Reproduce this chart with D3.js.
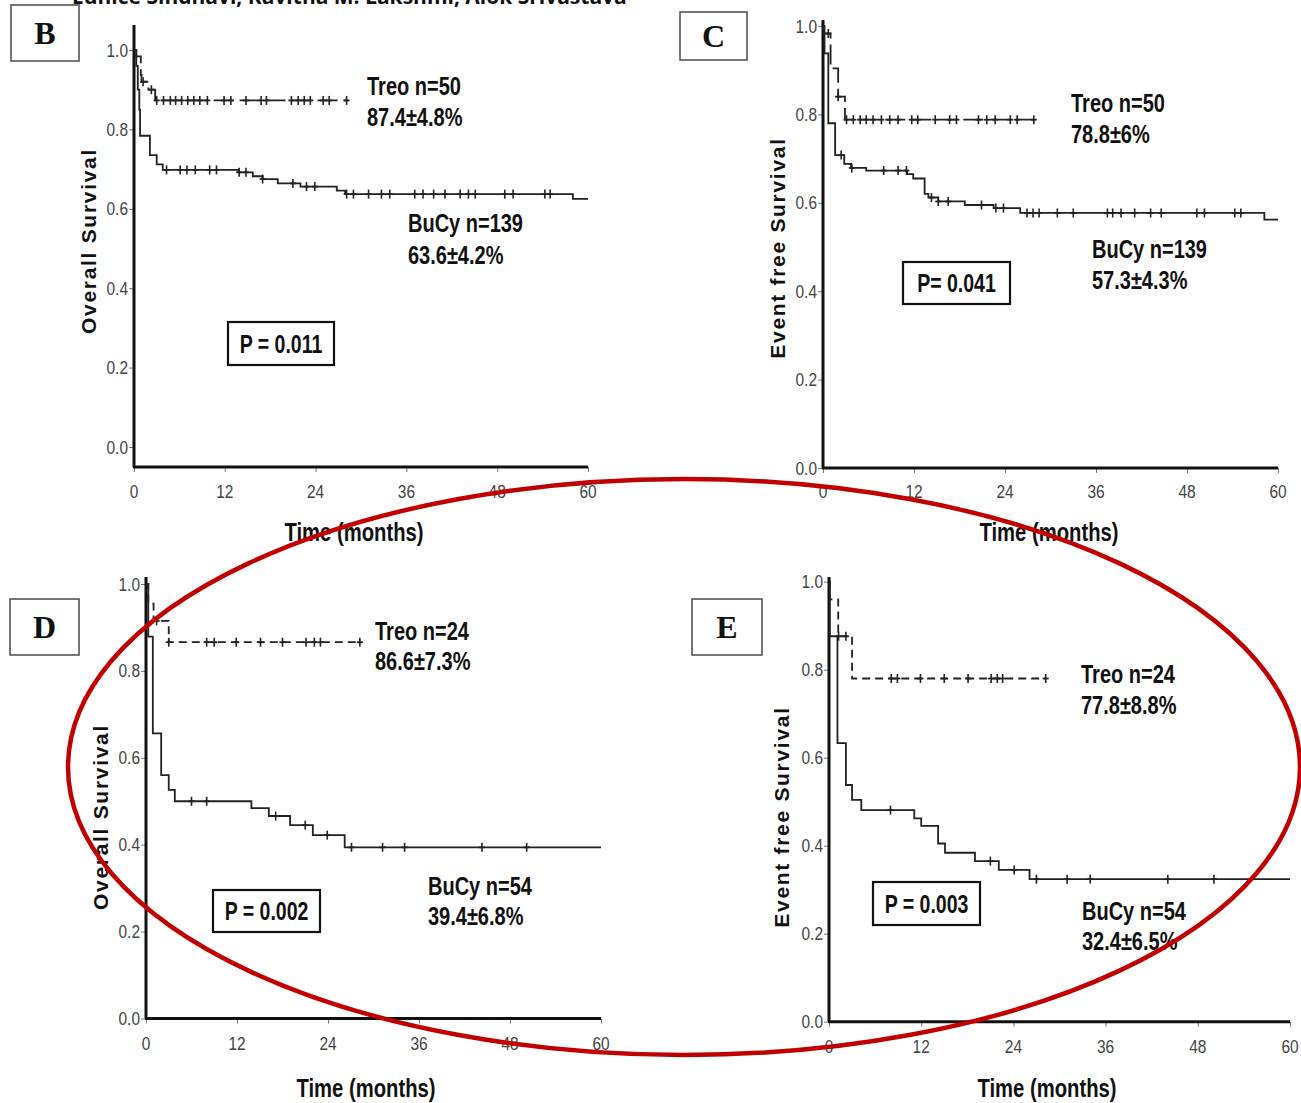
<!DOCTYPE html>
<html><head><meta charset="utf-8">
<script src="https://cdn.jsdelivr.net/npm/d3@7"></script>
<style>
body{margin:0;background:#fff;}
svg{display:block;}
</style></head><body>
<svg id="c" width="1301" height="1103"></svg>
<script>
// ---------------- DATA ----------------
const xTickValues = [0, 12, 24, 36, 48, 60];
const yTickValues = [0.0, 0.2, 0.4, 0.6, 0.8, 1.0];
const panelLetters = ["B", "C", "D", "E"];
const yTitles = ["Overall Survival", "Event free Survival", "Overall Survival", "Event free Survival"];
const xTitle = "Time (months)";
const pValues = ["P = 0.011", "P= 0.041", "P = 0.002", "P = 0.003"];
const treoLabels = ["Treo n=50", "Treo n=50", "Treo n=24", "Treo n=24"];
const treoRates = ["87.4±4.8%", "78.8±6%", "86.6±7.3%", "77.8±8.8%"];
const bucyLabels = ["BuCy n=139", "BuCy n=139", "BuCy n=54", "BuCy n=54"];
const bucyRates = ["63.6±4.2%", "57.3±4.3%", "39.4±6.8%", "32.4±6.5%"];
const headerText = "Eunice Sindhavi, Kavitha M. Lakshmi, Alok Srivastava";

// Panel B – overall survival, whole cohort
const bTreoSteps = [[0,1],[0.3,0.984],[0.9,0.937],[1.0,0.92],[1.9,0.90],[2.8,0.873],[28.1,0.873]];
const bTreoCensor = [1.2,2.3,3.0,3.9,4.8,5.5,6.3,7.1,7.9,8.7,9.7,11.9,12.8,14.8,16.8,17.5,20.8,21.7,22.5,23.3,25.0,25.8,28.1];
const bBucySteps = [[0,1],[0.3,0.96],[0.5,0.90],[0.7,0.85],[0.8,0.784],[2.1,0.735],[3.0,0.712],[3.8,0.698],[13.8,0.692],[15.7,0.682],[17.0,0.675],[19.0,0.664],[22.0,0.656],[26.8,0.646],[27.9,0.637],[58.0,0.625],[60,0.625]];
const bBucyCensor = [4.3,6.1,7.0,8.1,10.0,10.9,13.9,14.8,17.0,21.0,22.8,23.9,28.1,29.0,31.0,32.7,33.8,37.1,38.2,39.6,41.1,43.1,44.2,45.1,49.0,50.1,54.3,55.0];

// Panel C – event free survival, whole cohort
const cTreoSteps = [[0,1],[0.1,0.983],[1.0,0.904],[2.0,0.84],[2.9,0.788],[27.8,0.788]];
const cTreoCensor = [0.7,2.0,3.1,4.0,4.9,5.7,6.6,7.7,8.8,9.9,11.7,12.5,14.8,16.7,17.6,20.5,21.6,22.7,24.7,25.6,27.8];
const cBucySteps = [[0,1],[0.2,0.938],[0.7,0.78],[1.6,0.708],[2.8,0.688],[3.7,0.679],[5.7,0.673],[11.1,0.665],[11.9,0.655],[13.4,0.62],[13.9,0.612],[15.2,0.603],[18.7,0.595],[22.5,0.588],[26.0,0.577],[58.2,0.562],[60,0.562]];
const cBucyCensor = [2.4,3.8,8.0,9.9,11.0,14.3,15.2,16.5,20.9,22.8,23.8,26.9,27.7,28.5,30.9,33.0,37.5,38.2,39.3,41.1,43.2,44.6,49.3,50.3,54.3,55.1];

// Panel D – overall survival, subgroup
const dTreoSteps = [[0,1],[0.3,0.955],[1.0,0.915],[3.0,0.866],[28.2,0.866]];
const dTreoCensor = [1.4,3.0,8.0,9.0,11.9,15.1,18.0,21.1,22.2,23.0,28.2];
const dBucySteps = [[0,1],[0.3,0.879],[0.9,0.656],[2.0,0.56],[3.0,0.526],[3.8,0.50],[13.9,0.484],[16.2,0.466],[19.0,0.445],[22.0,0.422],[26.2,0.394],[60,0.394]];
const dBucyCensor = [6.0,8.0,17.1,21.0,23.9,27.1,31.2,34.1,44.3,50.2];

// Panel E – event free survival, subgroup
const eTreoSteps = [[0,1],[0.1,0.96],[1.2,0.876],[3.0,0.78],[28.2,0.78]];
const eTreoCensor = [1.25,2.2,8.1,8.9,11.9,15.0,18.1,21.1,21.9,22.6,28.2];
const eBucySteps = [[0,1],[0.1,0.876],[1.1,0.633],[2.2,0.538],[3.0,0.504],[4.2,0.481],[11.1,0.462],[12.0,0.445],[14.2,0.405],[15.1,0.384],[19.0,0.365],[22.1,0.345],[26.1,0.324],[60,0.324]];
const eBucyCensor = [8.0,21.0,24.1,27.0,31.0,34.0,44.1,50.1];

// ---------------- LAYOUT ----------------
const SANS = '"Liberation Sans",Arial,sans-serif';
const panels = [
  {x0:134,x1:588,y0:447,y1:50,axisY:467,axisTop:25,dash:"20,6",
   box:[11,5,79,61], pbox:[228,322,334,365], ytitle:[88,241], xtitle:[354,541], xlab:497.5,
   treoTxt:[367,95,126], bucyTxt:[408,232,264],
   treo:bTreoSteps, treoC:bTreoCensor, bucy:bBucySteps, bucyC:bBucyCensor},
  {x0:823,x1:1278,y0:468,y1:26,axisY:468,axisTop:20,dash:"20,6",
   box:[680,12,747,60], pbox:[903,262,1010,304], ytitle:[777,248], xtitle:[1049,541], xlab:497.5,
   treoTxt:[1071,112,143], bucyTxt:[1092,258,289],
   treo:cTreoSteps, treoC:cTreoCensor, bucy:cBucySteps, bucyC:cBucyCensor},
  {x0:146,x1:601,y0:1018.5,y1:584,axisY:1018.5,axisTop:577,dash:"8,5",
   box:[10,599,79,655], pbox:[213,890,320,932], ytitle:[100,817], xtitle:[366,1097], xlab:1049.5,
   treoTxt:[375,640,670], bucyTxt:[428,895,925],
   treo:dTreoSteps, treoC:dTreoCensor, bucy:dBucySteps, bucyC:dBucyCensor},
  {x0:829,x1:1290,y0:1021.7,y1:581.7,axisY:1021.7,axisTop:577,dash:"8,5",
   box:[692,599,762,655], pbox:[873,882,980,925], ytitle:[781,817], xtitle:[1047,1097], xlab:1053,
   treoTxt:[1081,683,714], bucyTxt:[1082,920,950],
   treo:eTreoSteps, treoC:eTreoCensor, bucy:eBucySteps, bucyC:eBucyCensor}
];

const svg = d3.select("#c");
svg.append("rect").attr("width",1301).attr("height",1103).attr("fill","#fff");

// header (cut off at the top, as in the source page)
svg.append("text").attr("x",72).attr("y",4)
  .attr("font-family",'"Open Sans",sans-serif').attr("font-weight","bold").attr("font-size",21)
  .attr("fill","#111").text(headerText);

function survAt(steps, t){
  let s = steps[0][1];
  for (const p of steps){ if (p[0] <= t) s = p[1]; }
  return s;
}
// condensed text helper (horizontal squeeze like Arial Narrow)
function ntext(g, xx, yy, txt, o){
  return g.append("text").attr("transform",`translate(${xx},${yy}) scale(${o.sx||0.8},1)`)
    .attr("x",0).attr("y",0).attr("text-anchor",o.anchor||"start")
    .attr("font-family",SANS).attr("font-weight",o.bold?"bold":"normal")
    .attr("font-size",o.size||25).attr("fill",o.fill||"#111").text(txt);
}

panels.forEach((p, i) => {
  const g = svg.append("g");
  const x = d3.scaleLinear().domain([0,60]).range([p.x0,p.x1]);
  const y = d3.scaleLinear().domain([0,1]).range([p.y0,p.y1]);

  // letter box
  const [bx0,by0,bx1,by1] = p.box;
  g.append("rect").attr("x",bx0).attr("y",by0).attr("width",bx1-bx0).attr("height",by1-by0)
    .attr("fill","#fff").attr("stroke","#555").attr("stroke-width",1.6);
  g.append("text").attr("x",(bx0+bx1)/2).attr("y",(by0+by1)/2+11)
    .attr("text-anchor","middle").attr("font-family",'"Liberation Serif","DejaVu Serif",serif')
    .attr("font-weight","bold").attr("font-size",32).attr("fill","#111").text(panelLetters[i]);

  // y axis (ticks via d3 axis)
  const yAx = d3.axisLeft(y).tickValues(yTickValues).tickFormat(d3.format(".1f")).tickSize(5);
  const ya = g.append("g").attr("transform",`translate(${p.x0},0)`).call(yAx);
  ya.select(".domain").remove();
  ya.selectAll(".tick line").attr("stroke","#777").attr("stroke-width",1);
  ya.selectAll(".tick text").remove();
  yTickValues.forEach(v => ntext(g, p.x0-6, y(v)+6.5, d3.format(".1f")(v), {anchor:"end", size:18, sx:0.86, fill:"#444"}));
  g.append("line").attr("x1",p.x0).attr("x2",p.x0).attr("y1",p.axisTop).attr("y2",p.axisY)
    .attr("stroke","#111").attr("stroke-width",3);

  // x axis
  const xAx = d3.axisBottom(x).tickValues(xTickValues).tickSize(5);
  const xa = g.append("g").attr("transform",`translate(0,${p.axisY})`).call(xAx);
  xa.select(".domain").remove();
  xa.selectAll(".tick line").attr("stroke","#777").attr("stroke-width",1);
  xa.selectAll(".tick text").remove();
  xTickValues.forEach(v => ntext(g, x(v), p.xlab, String(v), {anchor:"middle", size:18, sx:0.86, fill:"#444"}));
  g.append("line").attr("x1",p.x0-1).attr("x2",p.x1).attr("y1",p.axisY).attr("y2",p.axisY)
    .attr("stroke","#111").attr("stroke-width",3);

  // axis titles
  g.append("text").attr("transform",`translate(${p.ytitle[0]},${p.ytitle[1]}) rotate(-90)`)
    .attr("text-anchor","middle").attr("dominant-baseline","central")
    .attr("font-family",SANS).attr("font-weight","bold")
    .attr("font-size",21).attr("letter-spacing",1.7).attr("fill","#111").text(yTitles[i]);
  ntext(g, p.xtitle[0], p.xtitle[1], xTitle, {anchor:"middle", bold:true, size:25, sx:0.81});

  // curves
  const line = d3.line().x(d=>x(d[0])).y(d=>y(d[1])).curve(d3.curveStepAfter);
  g.append("path").attr("d",line(p.bucy)).attr("fill","none").attr("stroke","#222").attr("stroke-width",1.8);
  g.append("path").attr("d",line(p.treo)).attr("fill","none").attr("stroke","#222").attr("stroke-width",1.8)
    .attr("stroke-dasharray",p.dash);
  const cens = (arr, steps) => arr.forEach(t => {
    const cx = x(t), cy = y(survAt(steps,t));
    g.append("line").attr("x1",cx).attr("x2",cx).attr("y1",cy-4.5).attr("y2",cy+4.5)
      .attr("stroke","#222").attr("stroke-width",1.6);
    g.append("line").attr("x1",cx-3).attr("x2",cx+3).attr("y1",cy).attr("y2",cy)
      .attr("stroke","#222").attr("stroke-width",1.8);
  });
  cens(p.treoC, p.treo);
  cens(p.bucyC, p.bucy);

  // annotations
  const ann = (xx, yy, txt) => ntext(g, xx, yy, txt, {bold:true, size:25, sx:0.8});
  ann(p.treoTxt[0], p.treoTxt[1], treoLabels[i]);
  ann(p.treoTxt[0], p.treoTxt[2], treoRates[i]);
  ann(p.bucyTxt[0], p.bucyTxt[1], bucyLabels[i]);
  ann(p.bucyTxt[0], p.bucyTxt[2], bucyRates[i]);

  // p value box
  const [px0,py0,px1,py1] = p.pbox;
  g.append("rect").attr("x",px0).attr("y",py0).attr("width",px1-px0).attr("height",py1-py0)
    .attr("fill","#fff").attr("stroke","#111").attr("stroke-width",2.2);
  ntext(g, (px0+px1)/2, (py0+py1)/2+9, pValues[i], {anchor:"middle", bold:true, size:25, sx:0.78});
});

// red highlight ellipse
svg.append("ellipse").attr("cx",684).attr("cy",767).attr("rx",616).attr("ry",288)
  .attr("fill","none").attr("stroke","#c00000").attr("stroke-width",4.5);
</script>
</body></html>
